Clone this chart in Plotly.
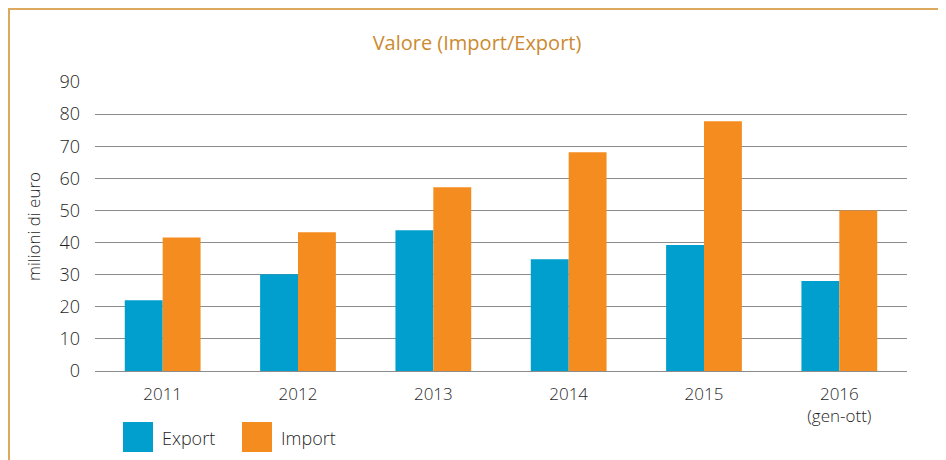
import plotly.graph_objects as go

years = ["2011", "2012", "2013", "2014", "2015", "2016<br>(gen-ott)"]
export_vals = [22.0, 30.1, 43.8, 34.8, 39.2, 28.0]
import_vals = [41.6, 43.2, 57.2, 68.1, 77.8, 50.0]
y_ticks = [0, 10, 20, 30, 40, 50, 60, 70, 80, 90]

EXPORT_C = "#009FCD"
IMPORT_C = "#F58C1F"
FONT = "Open Sans, Lato, DejaVu Sans, sans-serif"
TXT = "#1f1f1f"
WT = 300

# page body has an 8px margin; compensate so the chart lands on the window layout
OFF = 8
WIN_W, WIN_H = 946, 460
W, H = WIN_W - OFF, WIN_H - OFF
# plot area in window pixels
PX0, PX1, PY0, PY1 = 95, 907, 82, 371
L, R, T, B = PX0 - OFF, WIN_W - PX1, PY0 - OFF, WIN_H - PY1
pw, ph = PX1 - PX0, PY1 - PY0

def px_x(x):
    return (x - PX0) / pw

def px_y(y):
    return (PY1 - y) / ph

fig = go.Figure()
fig.add_trace(go.Bar(x=years, y=export_vals, name="Export", marker_color=EXPORT_C, marker_line_width=0))
fig.add_trace(go.Bar(x=years, y=import_vals, name="Import", marker_color=IMPORT_C, marker_line_width=0))

BORDER_X = OFF + 1
shapes = [
    dict(type="line", xref="paper", yref="paper", x0=px_x(BORDER_X - 1), x1=px_x(WIN_W + 5), y0=px_y(9), y1=px_y(9),
         line=dict(color="#DDA95E", width=2)),
    dict(type="line", xref="paper", yref="paper", x0=px_x(BORDER_X), x1=px_x(BORDER_X), y0=px_y(9), y1=px_y(WIN_H + 5),
         line=dict(color="#DDA95E", width=2)),
    dict(type="rect", xref="paper", yref="paper", x0=px_x(123), x1=px_x(153), y0=px_y(422), y1=px_y(452),
         fillcolor=EXPORT_C, line_width=0),
    dict(type="rect", xref="paper", yref="paper", x0=px_x(242), x1=px_x(272), y0=px_y(422), y1=px_y(452),
         fillcolor=IMPORT_C, line_width=0),
]

annotations = [
    dict(text="Export", xref="paper", yref="paper", x=px_x(160), y=px_y(438), xanchor="left", yanchor="middle",
         showarrow=False, font=dict(family=FONT, size=18, color=TXT, weight=WT)),
    dict(text="Import", xref="paper", yref="paper", x=px_x(279), y=px_y(438), xanchor="left", yanchor="middle",
         showarrow=False, font=dict(family=FONT, size=18, color=TXT, weight=WT)),
]

fig.update_layout(
    width=W, height=H,
    margin=dict(l=L, r=R, t=T, b=B, pad=0),
    paper_bgcolor="white", plot_bgcolor="white",
    barmode="group", bargap=0.44, bargroupgap=0,
    showlegend=False,
    title=dict(text="Valore (Import/Export)", x=px_x(477), xref="paper", xanchor="center",
               y=1 - (43 - OFF) / H, yanchor="middle",
               font=dict(family=FONT, size=20, color="#CC8A30", weight=400)),
    xaxis=dict(showgrid=False, showline=False, ticks="", zeroline=False,
               ticklabelstandoff=11,
               tickfont=dict(family=FONT, size=17, color=TXT, weight=WT)),
    yaxis=dict(range=[0, 90], tickvals=y_ticks, showgrid=True, gridcolor="#8C8C8C", gridwidth=1.3,
               zeroline=True, zerolinecolor="#8C8C8C", zerolinewidth=1.3, showline=False, ticks="",
               ticklabelstandoff=14,
               tickfont=dict(family=FONT, size=18, color=TXT, weight=WT),
               title=dict(text="milioni di euro", standoff=14,
                          font=dict(family=FONT, size=17, color=TXT, weight=WT))),
    shapes=shapes,
    annotations=annotations,
)

fig.write_html("out.html")
